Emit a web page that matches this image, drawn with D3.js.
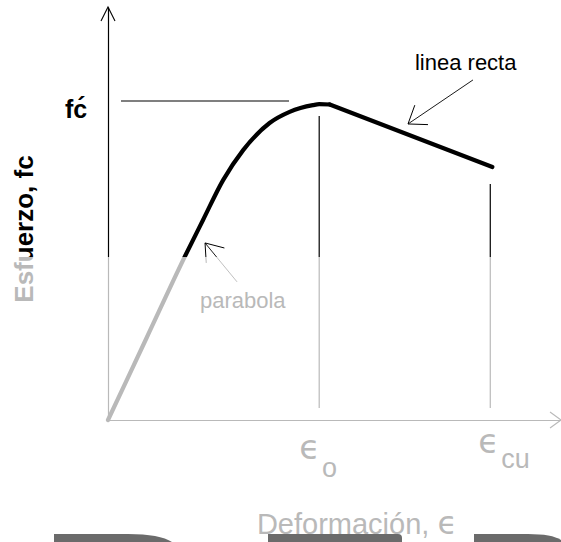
<!DOCTYPE html>
<html><head><meta charset="utf-8">
<script src="https://cdn.jsdelivr.net/npm/d3@7"></script>
<style>html,body{margin:0;padding:0;background:#fff;} svg{display:block}</style>
</head><body>
<svg id="c" width="561" height="542"></svg>
<script>
// ---------- data (strain in per mil, stress relative to f'c) ----------
const strainRise = [0, 0.365, 0.73, 0.90, 1.09, 1.28, 1.53, 1.72, 1.94, 2.00, 2.10];
const stressRise = [0, 0.257, 0.514, 0.627, 0.752, 0.846, 0.931, 0.966, 0.987, 0.990, 0.989];
const strainFall = [2.10, 3.64];
const stressFall = [0.989, 0.793];
const eo = 2.0, ecu = 3.62, fcPrime = 1.0;
const refLineFc = [0.123, 1.714];          // strain extent of f'c line
const refLineEo = [0.038, 0.953];          // stress extent of eo line
const refLineEcu = [0.038, 0.74];          // stress extent of ecu line
const tickLabels = [
  {v: eo,  sub: "o",  dx: -20, y1: 459, y2: 477},
  {v: ecu, sub: "cu", dx: -12, y1: 453, y2: 468}
];
const notes = [
  {text: "linea recta", tx: 2.907, ty: 1.097, tip: [2.841, 0.928], tail: [3.456, 1.066]},
  {text: "parabola",    tx: 0.871, ty: 0.351, tip: [0.919, 0.555], tail: [1.222, 0.433]}
];
const xMax = 4.29, yMax = 1.295;

// ---------- scales ----------
const W = 561, H = 542, split = 257;
const x = d3.scaleLinear().domain([0, 1]).range([108, 213.6]);
const y = d3.scaleLinear().domain([0, 1]).range([420, 101]);
const GRAY = "#b9b9b9";

const svg = d3.select("#c");
const defs = svg.append("defs");
defs.append("clipPath").attr("id", "top").append("rect").attr("x", 0).attr("y", 0).attr("width", W).attr("height", split);
defs.append("clipPath").attr("id", "bot").append("rect").attr("x", 0).attr("y", split).attr("width", W).attr("height", H - split);
svg.append("rect").attr("width", W).attr("height", H).attr("fill", "#fff");

function draw(g, ink) {
  // axes
  const xa = x.copy().domain([0, xMax]).range([x(0), x(xMax)]);
  const ya = y.copy().domain([0, yMax]).range([y(0), y(yMax)]);
  const ax = g.append("g").attr("transform", `translate(0,${y(0)})`)
    .call(d3.axisBottom(xa).tickValues([]).tickSizeOuter(0));
  ax.select(".domain").attr("stroke", GRAY).attr("stroke-width", 1.2);
  const ay = g.append("g").attr("transform", `translate(${x(0)},0)`)
    .call(d3.axisLeft(ya).tickValues([]).tickSizeOuter(0));
  ay.select(".domain").attr("stroke", ink).attr("stroke-width", 1.2);
  // arrowheads
  const tx = x(xMax), ty = y(yMax);
  g.append("path").attr("d", `M${tx - 11},${y(0) - 8}L${tx},${y(0)}L${tx - 11},${y(0) + 8}`)
    .attr("fill", "none").attr("stroke", GRAY).attr("stroke-width", 1.1);
  g.append("path").attr("d", `M${x(0) - 7},${ty + 14}L${x(0)},${ty}L${x(0) + 7},${ty + 14}`)
    .attr("fill", "none").attr("stroke", ink).attr("stroke-width", 1.1);

  // reference lines
  g.append("line").attr("x1", x(refLineFc[0])).attr("x2", x(refLineFc[1]))
    .attr("y1", y(fcPrime)).attr("y2", y(fcPrime)).attr("stroke", ink).attr("stroke-width", 1.2);
  g.append("line").attr("x1", x(eo)).attr("x2", x(eo))
    .attr("y1", y(refLineEo[0])).attr("y2", y(refLineEo[1])).attr("stroke", ink).attr("stroke-width", 1.2);
  g.append("line").attr("x1", x(ecu)).attr("x2", x(ecu))
    .attr("y1", y(refLineEcu[0])).attr("y2", y(refLineEcu[1])).attr("stroke", ink).attr("stroke-width", 1.2);

  // curve
  const rise = strainRise.map((s, i) => [s, stressRise[i]]);
  const fall = strainFall.map((s, i) => [s, stressFall[i]]);
  const lineGen = d3.line().x(d => x(d[0])).y(d => y(d[1]));
  g.append("path").attr("d", lineGen.curve(d3.curveMonotoneX)(rise))
    .attr("fill", "none").attr("stroke", ink).attr("stroke-width", 4.2).attr("stroke-linecap", "round");
  g.append("path").attr("d", d3.line().x(d => x(d[0])).y(d => y(d[1]))(fall))
    .attr("fill", "none").attr("stroke", ink).attr("stroke-width", 4.2).attr("stroke-linecap", "round");

  // annotations
  notes.forEach(n => {
    const px = x(n.tip[0]), py = y(n.tip[1]);
    const qx = x(n.tail[0]), qy = y(n.tail[1]);
    const ang = Math.atan2(qy - py, qx - px);
    const L = 20, a = 36 * Math.PI / 180;
    g.append("line").attr("x1", qx).attr("y1", qy).attr("x2", px).attr("y2", py)
      .attr("stroke", ink).attr("stroke-width", 0.9);
    g.append("path").attr("d",
      `M${px + L * Math.cos(ang - a)},${py + L * Math.sin(ang - a)}L${px},${py}L${px + L * Math.cos(ang + a)},${py + L * Math.sin(ang + a)}`)
      .attr("fill", "none").attr("stroke", ink).attr("stroke-width", 1);
    g.append("text").attr("x", x(n.tx)).attr("y", y(n.ty)).text(n.text)
      .attr("font-family", "Liberation Sans, Arial, sans-serif").attr("font-size", 22).attr("fill", ink);
  });

  // f'c label (single text node, prime shifted back over the c)
  g.append("text").attr("x", x(0) - 43).attr("y", y(fcPrime) + 17)
    .attr("dx", "0 0 -10").attr("dy", "0 0 -3")
    .attr("font-family", "Liberation Sans, Arial, sans-serif").attr("font-size", 25).attr("font-weight", "bold").attr("fill", ink)
    .text("fc´");

  // y axis title
  g.append("text").attr("transform", `translate(33,229) rotate(-90)`).attr("text-anchor", "middle")
    .attr("font-family", "Liberation Sans, Arial, sans-serif").attr("font-size", 26).attr("font-weight", "bold")
    .attr("fill", ink).text("Esfuerzo, fc");

  // tick labels
  tickLabels.forEach(t => {
    const tt = g.append("text").attr("x", x(t.v) + t.dx).attr("y", t.y1).attr("fill", ink);
    tt.append("tspan").text("ϵ").attr("font-family", "DejaVu Sans, sans-serif").attr("font-size", 34);
    tt.append("tspan").text(t.sub).attr("font-family", "Liberation Sans, Arial, sans-serif")
      .attr("font-size", 27).attr("dx", 2).attr("dy", t.y2 - t.y1);
  });

  // x axis title
  const xt = g.append("text").attr("x", 357).attr("y", 534).attr("text-anchor", "middle").attr("fill", ink)
    .attr("font-family", "Liberation Sans, Arial, sans-serif").attr("font-size", 29);
  xt.append("tspan").text("Deformación, ");
  xt.append("tspan").text("ϵ").attr("font-family", "DejaVu Sans, sans-serif").attr("font-size", 32);
}

draw(svg.append("g").attr("clip-path", "url(#top)"), "#000");
draw(svg.append("g").attr("clip-path", "url(#bot)"), GRAY);

// cropped dark shapes at the bottom edge
const shapes = [
  `M54,${H}V534H128Q160,534 172,${H}Z`,
  `M268,${H}V534H398Q402,534 402,538V${H}Z`,
  `M474,${H}V534H528Q552,534 561,540V${H}Z`
];
const sh = svg.append("g");
shapes.forEach(d => sh.append("path").attr("d", d).attr("fill", "#6b6b6b"));
</script>
</body></html>
